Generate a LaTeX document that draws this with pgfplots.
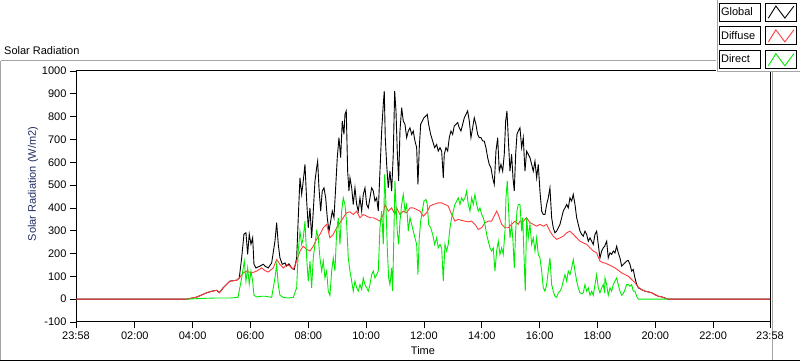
\documentclass[border=0pt]{standalone}
\usepackage{pgfplots}
\pgfplotsset{compat=1.18}
\usepackage{fontspec}
\setmainfont{Liberation Sans}
\definecolor{dcol}{RGB}{255,60,60}
\definecolor{dircol}{RGB}{0,235,0}
\definecolor{ylab}{RGB}{35,45,100}
\definecolor{framegray}{RGB}{165,165,165}
\newcommand{\lvfont}{\fontsize{11}{13}\selectfont}
\begin{document}
\begin{tikzpicture}
\useasboundingbox (0,0) rectangle (800pt,361pt);
\draw[framegray, line width=1pt] (0.5pt,300pt) -- (0.5pt,1pt) (0.5pt,300pt) -- (772pt,300pt) -- (772pt,1pt);
\draw[black, line width=1pt] (0pt,0.5pt) -- (800pt,0.5pt);
\node[anchor=base west, font=\lvfont, inner sep=0pt] at (4pt,306pt) {Solar Radiation};
\begin{axis}[
  at={(76pt,39pt)}, anchor=south west, scale only axis,
  width=694pt, height=251pt,
  xmin=-0.0333, xmax=23.9667, ymin=-100, ymax=1000,
  xtick={-0.0333,2,4,6,8,10,12,14,16,18,20,22,23.9667},
  xticklabels={23:58,02:00,04:00,06:00,08:00,10:00,12:00,14:00,16:00,18:00,20:00,22:00,23:58},
  minor x tick num=7,
  ytick={-100,0,100,200,300,400,500,600,700,800,900,1000},
  xtick pos=lower, ytick pos=left, tick align=outside,
  major tick length=6pt, minor tick length=3pt,
  tick style={black, line width=0.8pt},
  axis line style={black, line width=1pt},
  /pgf/number format/assume math mode=true,
  /pgf/number format/1000 sep={},
  every tick label/.append style={font=\lvfont},
  xlabel={Time}, xlabel style={font=\lvfont},
  ylabel={Solar Radiation (W/m2)},
  ylabel style={at={(axis description cs:-0.062,0.55)}, anchor=center, font=\lvfont, color=ylab},
  legend plot pos=right,
  legend image code/.code={
    \draw[black, line width=0.8pt, solid, fill=white] (0pt,-9pt) rectangle (31pt,9pt);
    \draw[#1] (2.5pt,-6pt) -- (10pt,6pt) -- (19pt,-6pt) -- (28pt,6pt);
  },
  legend style={at={(axis description cs:1.0432,1.2829)}, anchor=north east,
    draw=none, fill=white, inner xsep=2.5pt, inner ysep=2.5pt,
    row sep=5pt, column sep=5pt, legend cell align=left,
    nodes={draw=black, line width=0.8pt, text width=37pt, minimum height=18pt,
      inner sep=2pt, anchor=west, align=left, font=\lvfont}},
]
\addplot[black, line width=0.9pt] coordinates {
(-0.0333,0)(3.794,0)(4.139,9)(4.485,28)(4.669,35)(4.831,39)(4.921,28)(5.059,50)(5.291,79)(5.523,83)(5.613,93)(5.696,181)(5.775,285)(5.844,291)(5.903,197)(5.958,285)(6.017,241)(6.076,269)(6.121,153)(6.190,137)(6.329,145)(6.443,153)(6.501,145)(6.616,137)(6.733,159)(6.847,254)(6.906,335)(6.961,241)(7.020,181)(7.100,153)(7.193,159)(7.252,145)(7.331,155)(7.425,137)(7.515,130)(7.598,181)(7.653,357)(7.712,532)(7.771,460)(7.826,518)(7.885,591)(7.944,430)(7.999,313)(8.058,400)(8.116,269)(8.172,386)(8.231,518)(8.289,576)(8.324,605)(8.369,488)(8.428,386)(8.483,474)(8.542,488)(8.601,444)(8.656,357)(8.715,298)(8.773,342)(8.829,386)(8.888,357)(8.946,488)(9.002,620)(9.060,708)(9.119,620)(9.175,781)(9.233,722)(9.268,810)(9.313,825)(9.361,561)(9.406,474)(9.441,532)(9.500,488)(9.555,415)(9.614,488)(9.673,415)(9.728,386)(9.787,444)(9.846,386)(9.901,459)(9.960,488)(10.018,415)(10.074,400)(10.133,444)(10.191,488)(10.247,474)(10.305,430)(10.364,444)(10.420,386)(10.478,561)(10.537,737)(10.593,854)(10.627,912)(10.662,708)(10.710,591)(10.765,488)(10.824,561)(10.883,474)(10.938,635)(10.987,912)(11.032,825)(11.077,649)(11.125,518)(11.170,737)(11.229,839)(11.284,781)(11.343,766)(11.402,708)(11.457,737)(11.516,751)(11.575,722)(11.630,737)(11.689,693)(11.747,664)(11.792,503)(11.838,664)(11.886,766)(11.941,781)(12.000,795)(12.069,803)(12.114,810)(12.162,766)(12.232,722)(12.301,693)(12.370,664)(12.439,678)(12.494,649)(12.553,664)(12.612,649)(12.668,532)(12.702,635)(12.761,664)(12.820,649)(12.875,708)(12.934,737)(12.992,722)(13.048,759)(13.107,766)(13.165,774)(13.221,751)(13.279,737)(13.338,766)(13.394,795)(13.452,810)(13.511,825)(13.567,781)(13.625,708)(13.684,751)(13.739,795)(13.798,766)(13.857,722)(13.912,708)(13.971,708)(14.030,693)(14.085,693)(14.144,664)(14.203,620)(14.258,591)(14.317,576)(14.376,532)(14.431,503)(14.490,649)(14.549,708)(14.604,561)(14.663,591)(14.722,561)(14.777,635)(14.825,781)(14.870,825)(14.915,708)(14.974,561)(15.032,635)(15.078,532)(15.123,474)(15.171,635)(15.216,722)(15.261,737)(15.320,751)(15.378,664)(15.434,708)(15.493,561)(15.551,649)(15.607,635)(15.666,620)(15.724,591)(15.780,561)(15.839,605)(15.897,532)(15.953,591)(16.011,474)(16.070,386)(16.126,371)(16.184,371)(16.243,415)(16.298,444)(16.357,488)(16.416,357)(16.471,313)(16.530,291)(16.589,298)(16.644,313)(16.703,328)(16.762,357)(16.817,386)(16.876,400)(16.935,415)(16.990,400)(17.049,444)(17.108,430)(17.163,459)(17.222,415)(17.281,357)(17.336,328)(17.395,298)(17.454,284)(17.509,276)(17.568,298)(17.626,284)(17.682,254)(17.741,269)(17.799,254)(17.855,240)(17.913,284)(17.972,298)(18.028,240)(18.086,181)(18.145,211)(18.201,225)(18.249,232)(18.318,254)(18.373,181)(18.432,203)(18.491,196)(18.546,211)(18.605,203)(18.664,232)(18.719,203)(18.778,181)(18.837,145)(18.892,152)(18.951,159)(19.010,167)(19.065,170)(19.124,152)(19.183,123)(19.238,130)(19.297,93)(19.356,64)(19.411,50)(19.528,42)(19.643,35)(19.757,32)(19.874,28)(19.988,20)(20.102,13)(20.220,10)(20.334,5)(20.449,0)(23.9667,0)
};
\addlegendentry{Global}
\addplot[dcol, line width=0.9pt] coordinates {
(-0.0333,0)(3.794,0)(4.139,9)(4.485,28)(4.669,35)(4.831,39)(4.921,28)(5.059,50)(5.291,79)(5.523,83)(5.613,93)(5.751,115)(5.869,123)(6.041,115)(6.214,123)(6.387,137)(6.501,125)(6.616,119)(6.789,137)(6.906,174)(7.020,152)(7.134,137)(7.252,152)(7.366,145)(7.480,130)(7.598,167)(7.712,211)(7.826,232)(7.944,218)(8.058,211)(8.172,232)(8.289,262)(8.403,284)(8.518,313)(8.635,328)(8.749,269)(8.863,284)(8.981,313)(9.095,335)(9.209,357)(9.327,379)(9.441,383)(9.555,371)(9.673,386)(9.787,357)(9.901,371)(10.018,364)(10.133,357)(10.247,357)(10.364,350)(10.478,342)(10.593,371)(10.651,415)(10.765,386)(10.883,400)(10.997,371)(11.056,400)(11.170,371)(11.284,386)(11.402,379)(11.516,400)(11.630,400)(11.747,393)(11.862,386)(11.976,364)(12.093,379)(12.207,408)(12.322,415)(12.494,422)(12.612,422)(12.726,415)(12.840,408)(12.958,371)(13.072,342)(13.186,350)(13.304,345)(13.418,342)(13.532,339)(13.649,342)(13.763,328)(13.878,306)(13.995,313)(14.109,335)(14.224,342)(14.341,342)(14.455,371)(14.514,386)(14.569,371)(14.687,328)(14.801,313)(14.915,313)(15.032,328)(15.147,342)(15.261,328)(15.320,342)(15.434,342)(15.551,357)(15.666,335)(15.780,328)(15.897,320)(16.011,328)(16.126,320)(16.243,328)(16.357,298)(16.471,276)(16.589,262)(16.703,269)(16.817,276)(16.935,291)(17.049,298)(17.163,284)(17.281,269)(17.395,254)(17.509,247)(17.626,240)(17.741,225)(17.855,211)(17.972,203)(18.086,167)(18.201,159)(18.259,159)(18.373,152)(18.491,145)(18.605,137)(18.719,127)(18.837,115)(18.951,108)(19.065,101)(19.183,86)(19.297,72)(19.411,53)(19.528,42)(19.643,35)(19.757,32)(19.874,28)(19.988,20)(20.102,13)(20.220,10)(20.334,5)(20.449,0)(23.9667,0)
};
\addlegendentry{Diffuse}
\addplot[dircol, line width=0.9pt] coordinates {
(3.794,0)(4.254,3)(4.772,5)(5.291,5)(5.568,8)(5.696,93)(5.786,167)(5.844,79)(5.903,137)(5.958,66)(6.017,123)(6.076,79)(6.121,17)(6.214,10)(6.387,13)(6.501,13)(6.733,8)(6.847,93)(6.906,152)(6.961,64)(7.020,17)(7.134,8)(7.307,5)(7.480,8)(7.598,50)(7.653,211)(7.712,298)(7.771,240)(7.826,269)(7.885,342)(7.944,181)(7.999,79)(8.058,167)(8.116,50)(8.172,181)(8.231,240)(8.289,298)(8.345,269)(8.403,181)(8.462,123)(8.518,167)(8.576,93)(8.635,123)(8.690,35)(8.749,17)(8.808,123)(8.863,181)(8.922,123)(8.981,298)(9.036,357)(9.095,240)(9.154,386)(9.209,444)(9.268,415)(9.327,328)(9.382,181)(9.441,123)(9.500,79)(9.555,35)(9.614,79)(9.673,50)(9.728,35)(9.787,64)(9.846,42)(9.901,93)(9.960,64)(10.018,50)(10.074,35)(10.133,64)(10.191,108)(10.247,123)(10.305,93)(10.364,108)(10.420,123)(10.478,313)(10.537,386)(10.593,240)(10.641,547)(10.686,415)(10.731,225)(10.779,93)(10.824,64)(10.883,137)(10.917,35)(10.962,298)(10.997,518)(11.032,415)(11.077,298)(11.125,240)(11.170,342)(11.229,415)(11.284,459)(11.343,386)(11.402,415)(11.457,298)(11.516,357)(11.575,328)(11.630,298)(11.689,269)(11.747,240)(11.792,108)(11.838,269)(11.886,342)(11.941,386)(12.000,430)(12.069,437)(12.114,415)(12.162,328)(12.232,313)(12.301,284)(12.370,240)(12.439,269)(12.494,225)(12.553,240)(12.612,225)(12.668,79)(12.726,240)(12.785,211)(12.840,240)(12.899,313)(12.958,357)(13.013,386)(13.072,415)(13.131,430)(13.186,444)(13.245,415)(13.304,444)(13.359,430)(13.418,444)(13.477,474)(13.532,415)(13.591,386)(13.649,444)(13.705,415)(13.763,459)(13.822,415)(13.878,386)(13.937,400)(13.995,371)(14.051,357)(14.109,328)(14.168,284)(14.224,254)(14.282,225)(14.341,211)(14.396,225)(14.455,123)(14.514,211)(14.569,254)(14.628,196)(14.687,225)(14.742,196)(14.801,298)(14.836,444)(14.881,518)(14.929,386)(14.974,269)(15.032,328)(15.078,254)(15.123,137)(15.171,298)(15.216,386)(15.261,415)(15.320,415)(15.378,298)(15.413,357)(15.458,196)(15.503,35)(15.551,357)(15.607,269)(15.666,328)(15.724,240)(15.780,269)(15.839,211)(15.897,269)(15.953,196)(16.011,181)(16.070,123)(16.126,50)(16.184,35)(16.243,64)(16.298,123)(16.357,181)(16.416,64)(16.471,35)(16.530,13)(16.589,8)(16.644,28)(16.703,35)(16.762,50)(16.817,79)(16.876,108)(16.935,79)(16.990,123)(17.049,108)(17.108,137)(17.163,174)(17.222,123)(17.281,79)(17.336,50)(17.395,28)(17.454,24)(17.509,28)(17.568,64)(17.626,35)(17.682,50)(17.741,17)(17.799,35)(17.855,17)(17.913,64)(17.972,108)(18.028,50)(18.086,28)(18.145,50)(18.201,64)(18.249,28)(18.259,93)(18.318,64)(18.373,17)(18.432,50)(18.491,35)(18.546,64)(18.605,79)(18.664,93)(18.719,64)(18.778,35)(18.837,17)(18.892,24)(18.951,42)(19.010,64)(19.065,64)(19.124,57)(19.183,64)(19.238,35)(19.297,35)(19.356,13)(19.411,0)(20.449,0)
};
\addlegendentry{Direct}
\end{axis}
\draw[framegray, line width=1pt] (717pt,289pt) -- (717pt,361pt) (717pt,289pt) -- (800pt,289pt);
\end{tikzpicture}
\end{document}
